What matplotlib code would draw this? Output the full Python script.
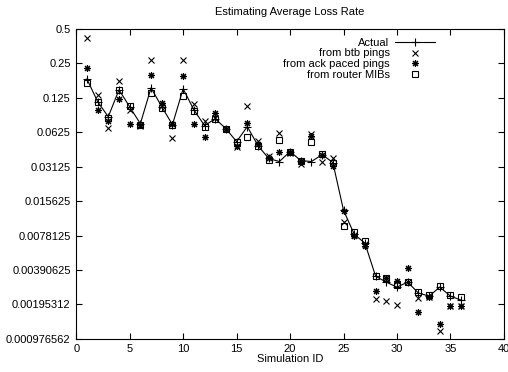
import matplotlib
matplotlib.use("Agg")
import matplotlib.pyplot as plt

sim_id = list(range(1, 37))

actual = [0.183, 0.116, 0.0855, 0.147, 0.1045, 0.0743, 0.153, 0.1045, 0.0729, 0.150,
          0.0985, 0.0715, 0.0821, 0.0673, 0.0518, 0.0701, 0.0478, 0.0369, 0.0347, 0.0424,
          0.0354, 0.0347, 0.0399, 0.0340, 0.0130, 0.00804, 0.00670, 0.00345, 0.00306, 0.00277,
          0.00306, 0.00246, 0.00231, 0.00277, 0.00231, 0.00213]

btb_pings = [0.417, 0.133, 0.0686, 0.176, 0.0985, 0.0715, 0.268, 0.107, 0.0561, 0.268,
             0.111, 0.0789, 0.0835, 0.0673, 0.0469, 0.107, 0.0528, 0.0391, 0.0620, 0.0416,
             0.0333, 0.0608, 0.0347, 0.0369, 0.0102, 0.00786, 0.00656, 0.00218, 0.00209, 0.00193,
             0.00306, 0.00222, 0.00227, 0.00114, 0.00189, 0.00189]

ack_pings = [0.229, 0.0985, 0.0789, 0.123, 0.0743, 0.0729, 0.199, 0.113, 0.0743, 0.195,
             0.0743, 0.0573, 0.0927, 0.0673, 0.0478, 0.0760, 0.0497, 0.0375, 0.0424, 0.0424,
             0.0354, 0.0584, 0.0399, 0.0320, 0.0127, 0.00770, 0.00630, 0.00255, 0.00332, 0.00312,
             0.00405, 0.00168, 0.00227, 0.00132, 0.00189, 0.00189]

router_mibs = [0.169, 0.116, 0.0835, 0.147, 0.107, 0.0729, 0.138, 0.1027, 0.0729, 0.130,
               0.0965, 0.0701, 0.0821, 0.0673, 0.0518, 0.0573, 0.0478, 0.0361, 0.0539, 0.0424,
               0.0354, 0.0518, 0.0407, 0.0340, 0.00942, 0.00835, 0.00697, 0.00345, 0.00332, 0.00288,
               0.00306, 0.00251, 0.00236, 0.00283, 0.00236, 0.00227]

ytick_values = [0.5, 0.25, 0.125, 0.0625, 0.03125, 0.015625, 0.0078125,
                0.00390625, 0.001953125, 0.0009765625]
ytick_labels = ["0.5", "0.25", "0.125", "0.0625", "0.03125", "0.015625", "0.0078125",
                "0.00390625", "0.00195312", "0.000976562"]
xtick_values = [0, 5, 10, 15, 20, 25, 30, 35, 40]

plt.rcParams['font.family'] = ['Liberation Sans', 'DejaVu Sans']
plt.rcParams['font.size'] = 8

fig = plt.figure(figsize=(5.08, 3.72), dpi=100)
ax = fig.add_axes([0.150, 0.089, 0.842, 0.833])

ax.plot(sim_id, actual, color='black', lw=0.8, marker='+', ms=6, mew=0.8, label='Actual')
ax.plot(sim_id, btb_pings, ls='none', color='black', marker='x', ms=4.5, mew=0.8,
        label='from btb pings')
ax.plot(sim_id, ack_pings, ls='none', color='black', marker=(8, 2, 0), ms=5, mew=0.8,
        label='from ack paced pings')
ax.plot(sim_id, router_mibs, ls='none', color='black', marker='s', ms=5, mew=0.8,
        mfc='none', label='from router MIBs')

ax.set_yscale('log', base=2)
ax.set_ylim(ytick_values[-1], ytick_values[0])
ax.set_xlim(0, 40)
ax.set_yticks(ytick_values)
ax.set_yticklabels(ytick_labels)
ax.minorticks_off()
ax.set_xticks(xtick_values)
ax.tick_params(direction='in', length=4, width=0.8, top=True, right=True, pad=4,
               labelsize=8)
for s in ax.spines.values():
    s.set_linewidth(0.8)

ax.set_title('Estimating Average Loss Rate', fontsize=8, pad=10)
ax.set_xlabel('Simulation ID', fontsize=8, labelpad=0)

leg = ax.legend(loc='upper right', bbox_to_anchor=(0.86, 1.0), frameon=False,
                markerfirst=False, fontsize=8, labelspacing=0.05, handlelength=3.6,
                handletextpad=0.5, borderpad=0.3)

fig.savefig('out.png', dpi=100)
